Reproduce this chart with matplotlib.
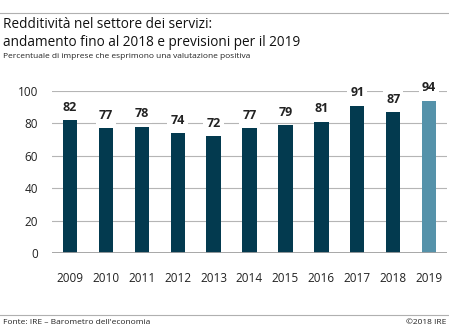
import matplotlib.pyplot as plt
from matplotlib.lines import Line2D

plt.rcParams['font.family'] = ['Open Sans', 'DejaVu Sans']

# Data
years = ['2009', '2010', '2011', '2012', '2013', '2014', '2015', '2016', '2017', '2018', '2019']
values = [82, 77, 78, 74, 72, 77, 79, 81, 91, 87, 94]
forecast = [False] * 10 + [True]

dark = '#033a4f'
light = '#5592aa'

fig = plt.figure(figsize=(4.49, 3.30), dpi=100)
W, H = 449, 330

# axes in pixel coordinates: left 52, right 447, y0 at 253, y100 at 91
ax = fig.add_axes([52 / W, (H - 253) / H, (447 - 52) / W, (253 - 91) / H])

x = list(range(len(years)))
colors = [light if f else dark for f in forecast]
ax.bar(x, values, width=0.4, color=colors, zorder=3)

ax.set_xlim(-0.5, len(years) - 0.5)
ax.set_ylim(0, 100)
ax.set_yticks([0, 20, 40, 60, 80, 100])
ax.set_xticks(x)
ax.set_xticklabels(years)
ax.tick_params(axis='both', length=0, labelsize=8.5, colors='#222222')
ax.tick_params(axis='y', pad=10)
ax.tick_params(axis='x', pad=14)
ax.grid(axis='y', color='#b5b5b5', linewidth=0.8, zorder=0)
ax.axhline(0, color='#a0a0a0', linewidth=2, zorder=4)
for s in ax.spines.values():
    s.set_visible(False)

for xi, v in zip(x, values):
    ax.text(xi, v + 8, str(v), ha='center', va='center', fontsize=9, fontweight='bold',
            color='#222222', zorder=5,
            bbox=dict(boxstyle='square,pad=0.25', fc='white', ec='none'))

# titles
fig.text(3 / W, 1 - 25 / H, 'Redditività nel settore dei servizi:', fontsize=9.8, va='center', color='#111111')
fig.text(3 / W, 1 - 43 / H, 'andamento fino al 2018 e previsioni per il 2019', fontsize=9.8, va='center', color='#111111')
fig.text(3 / W, 1 - 57 / H, 'Percentuale di imprese che esprimono una valutazione positiva', fontsize=6, va='center', color='#222222')

# rules
fig.add_artist(Line2D([0, 1], [1 - 13 / H, 1 - 13 / H], color='#b0b0b0', linewidth=0.8))
fig.add_artist(Line2D([0, 1], [1 - 315 / H, 1 - 315 / H], color='#b0b0b0', linewidth=0.8))

fig.text(3 / W, 1 - 323 / H, "Fonte: IRE – Barometro dell'economia", fontsize=6, va='center', color='#222222')
fig.text(1 - 3 / W, 1 - 323 / H, '©2018 IRE', fontsize=6, va='center', ha='right', color='#222222')

fig.savefig('out.png', dpi=100)
